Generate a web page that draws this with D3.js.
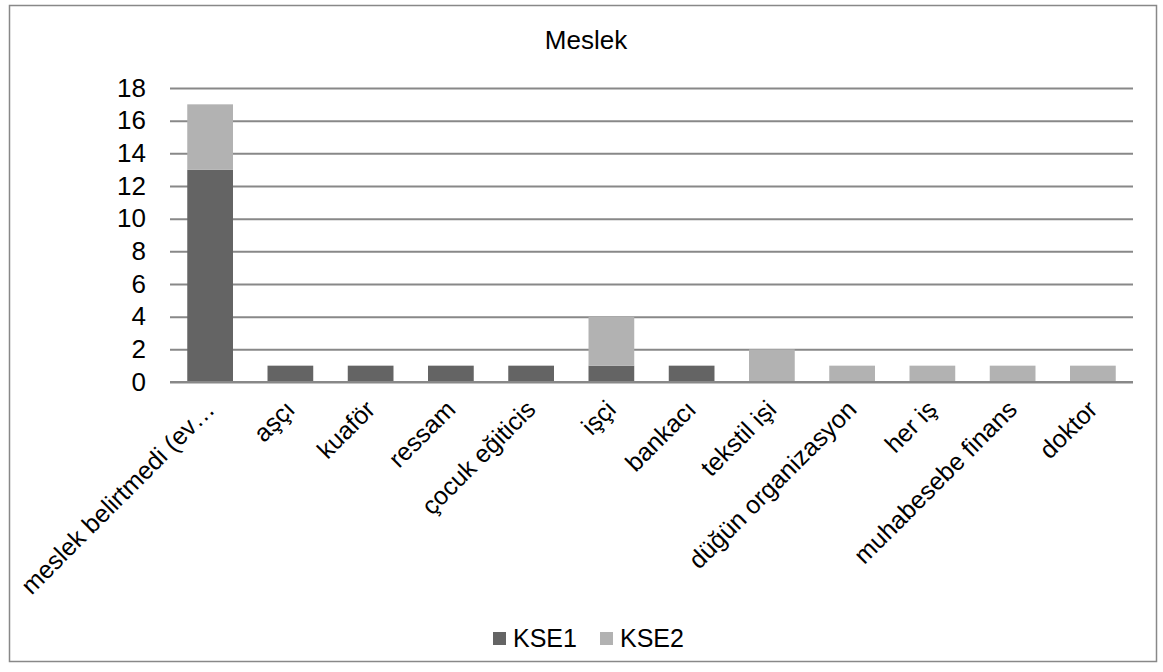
<!DOCTYPE html>
<html>
<head>
<meta charset="utf-8">
<script src="https://cdn.jsdelivr.net/npm/d3@7"></script>
<style>
  body { margin: 0; background: #fff; }
  svg text { font-family: Arial, "Liberation Sans", sans-serif; fill: #000; }
</style>
</head>
<body>
<svg></svg>
<script>
let categories = ['meslek belirtmedi (ev…', 'aşçı', 'kuaför', 'ressam', 'çocuk eğiticis', 'işçi',
                  'bankacı', 'tekstil işi', 'düğün organizasyon', 'her iş', 'muhabesebe finans', 'doktor'];
let kse1 = [13, 1, 1, 1, 1, 1, 1, 0, 0, 0, 0, 0];
let kse2 = [4, 0, 0, 0, 0, 3, 0, 2, 1, 1, 1, 1];
let seriesNames = ['KSE1', 'KSE2'];
let yTicks = [0, 2, 4, 6, 8, 10, 12, 14, 16, 18];

let width = 1163;
let height = 672;
let plot = { left: 170, right: 1133, top: 88, bottom: 382 };
let colors = { KSE1: '#646464', KSE2: '#b2b2b2' };

let svg = d3.select('svg').attr('width', width).attr('height', height);

// outer frame
svg.append('rect')
    .attr('x', 9.5).attr('y', 5.5)
    .attr('width', 1147).attr('height', 656)
    .attr('fill', '#fff')
    .attr('stroke', '#888').attr('stroke-width', 1.5);

svg.append('text')
    .attr('x', 586).attr('y', 49)
    .attr('text-anchor', 'middle')
    .style('font-size', '26px')
    .text('Meslek');

let rows = categories.map((c, i) => ({ cat: c, KSE1: kse1[i], KSE2: kse2[i] }));

let xScale = d3.scaleBand()
    .domain(categories)
    .range([plot.left, plot.right])
    .paddingInner(0.43)
    .paddingOuter(0.215);

let yScale = d3.scaleLinear()
    .domain([0, 18])
    .range([plot.bottom, plot.top]);

// gridlines
let yAxis = d3.axisLeft(yScale)
    .tickValues(yTicks)
    .tickSize(-(plot.right - plot.left));

let gy = svg.append('g')
    .attr('transform', `translate(${plot.left}, 0)`)
    .call(yAxis);
gy.select('.domain').remove();
gy.selectAll('line').attr('stroke', '#888').attr('stroke-width', 2);
gy.selectAll('text')
    .style('font-size', '26px')
    .attr('x', 146 - plot.left);

// stacked bars
let stacked = d3.stack().keys(seriesNames)(rows);

svg.append('g')
    .selectAll('g')
    .data(stacked)
    .enter()
    .append('g')
    .attr('fill', (s) => colors[s.key])
    .selectAll('rect')
    .data((s) => s.filter((d) => d[1] > d[0]))
    .enter()
    .append('rect')
    .attr('x', (d) => xScale(d.data.cat))
    .attr('y', (d) => yScale(d[1]))
    .attr('width', xScale.bandwidth())
    .attr('height', (d) => yScale(d[0]) - yScale(d[1]));

// baseline on top of bars
svg.append('line')
    .attr('x1', plot.left).attr('x2', plot.right)
    .attr('y1', yScale(0)).attr('y2', yScale(0))
    .attr('stroke', '#888').attr('stroke-width', 2);

// rotated category labels
svg.append('g')
    .selectAll('text')
    .data(categories)
    .enter()
    .append('text')
    .attr('text-anchor', 'end')
    .style('font-size', '25px')
    .attr('transform', (d) => {
        let cx = xScale(d) + xScale.bandwidth() / 2;
        return `translate(${cx + 6}, 411) rotate(-45)`;
    })
    .text((d) => d);

// legend
let legend = svg.append('g');
let legendX = [493, 600];
seriesNames.forEach((name, i) => {
    legend.append('rect')
        .attr('x', legendX[i]).attr('y', 632)
        .attr('width', 13).attr('height', 13)
        .attr('fill', colors[name]);
    legend.append('text')
        .attr('x', legendX[i] + 20).attr('y', 647)
        .style('font-size', '25px')
        .text(name);
});
</script>
</body>
</html>
